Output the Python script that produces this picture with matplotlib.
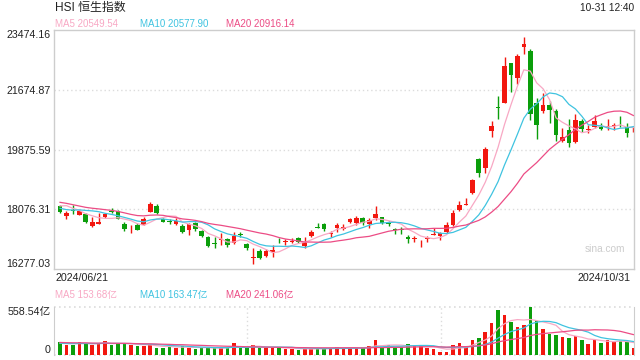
import matplotlib
matplotlib.use("Agg")
import matplotlib.pyplot as plt
import numpy as np
import pandas as pd

plt.rcParams["font.family"] = ["Liberation Sans", "Noto Sans CJK SC", "DejaVu Sans"]

title = "HSI 恒生指数"
stamp = "10-31 12:40"
start_label = "2024/06/21"
end_label = "2024/10/31"

# daily candles, 2024-06-21 .. 2024-10-31 (last one is intraday)
opens = [
    18174, 17882, 18053, 17912, 17933, 17581, 17641, 17834, 18032, 18014,
    17641, 17442, 17611, 17611, 18002, 18183, 17792, 17713, 17641, 17572,
    17451, 17671, 17421, 17240, 17060, 17150, 17171, 17051, 17340, 17021,
    16617, 16819, 16677, 16789, 17055, 17085, 17099, 17210, 16970, 17280,
    17533, 17632, 17322, 17502, 17490, 17692, 17653, 17804, 17623, 17804,
    17834, 17653, 17460, 17472, 17250, 17180, 17051, 17180, 17296, 17271,
    17382, 17602, 18053, 18204, 18556, 19580, 19309, 20441, 21146, 21284,
    22471, 22019, 22952, 22841, 21266, 21043, 21215, 21043, 20140, 20462,
    20110, 20742, 20470, 20562, 20562, 20555, 20585, 20713, 20562, 20425,
]
highs = [
    18204, 18032, 18204, 18053, 17954, 17834, 17954, 17972, 18105, 18053,
    17683, 17602, 17671, 17834, 18285, 18234, 17822, 17783, 17804, 17623,
    17653, 17701, 17451, 17271, 17250, 17352, 17201, 17382, 17400, 17069,
    16900, 16879, 16879, 16999, 17201, 17171, 17219, 17231, 17250, 17451,
    17653, 17653, 17430, 17653, 17623, 17822, 17873, 17852, 17804, 18183,
    17852, 17731, 17521, 17551, 17292, 17271, 17150, 17271, 17502, 17400,
    17701, 18053, 18333, 18406, 18987, 19610, 19941, 20742, 21486, 22669,
    22489, 22751, 23253, 22901, 21417, 21567, 21344, 21086, 20532, 20784,
    20935, 20784, 20613, 20914, 20664, 20784, 20664, 20884, 20664, 20562,
]
lows = [
    17954, 17773, 17933, 17903, 17653, 17551, 17641, 17804, 17954, 17773,
    17430, 17352, 17451, 17593, 17984, 17924, 17692, 17641, 17602, 17352,
    17292, 17430, 17231, 16939, 16900, 16999, 16948, 17021, 17250, 16849,
    16428, 16578, 16629, 16647, 17045, 16991, 17051, 17051, 16900, 17250,
    17525, 17430, 17250, 17382, 17451, 17653, 17602, 17611, 17502, 17752,
    17632, 17572, 17331, 17331, 17051, 17099, 16948, 17099, 17290, 17150,
    17352, 17572, 18032, 18200, 18526, 19056, 19177, 20261, 20784, 21266,
    21615, 21847, 22751, 20763, 20182, 20965, 20664, 20140, 20110, 19960,
    20062, 20411, 20363, 20513, 20462, 20462, 20462, 20562, 20261, 20411,
]
closes = [
    18002, 17972, 18032, 18014, 17683, 17701, 17683, 17933, 18002, 17792,
    17490, 17460, 17460, 17773, 18234, 17972, 17701, 17692, 17722, 17391,
    17623, 17472, 17271, 16979, 17030, 17171, 16991, 17271, 17310, 16909,
    16647, 16617, 16819, 16849, 17045, 17095, 17129, 17099, 17051, 17400,
    17525, 17481, 17370, 17602, 17551, 17773, 17822, 17671, 17752, 17933,
    17671, 17632, 17445, 17451, 17189, 17195, 17069, 17195, 17306, 17370,
    17602, 17972, 18204, 18215, 18957, 19159, 19890, 20583, 21125, 22389,
    22118, 22690, 23052, 20935, 20613, 21215, 21064, 20312, 20261, 20080,
    20763, 20492, 20490, 20733, 20483, 20570, 20600, 20695, 20381, 20441,
]
# turnover, 亿
volumes = [
    151, 121, 121, 151, 132, 121, 132, 162, 121, 132,
    132, 121, 106, 106, 121, 83, 83, 98, 83, 106,
    83, 72, 83, 83, 83, 79, 83, 140, 83, 83,
    117, 83, 83, 83, 83, 72, 72, 60, 72, 72,
    83, 72, 79, 94, 83, 83, 83, 83, 106, 174,
    94, 113, 94, 98, 128, 106, 106, 83, 72, 38,
    38, 117, 140, 94, 174, 196, 264, 366, 525, 457,
    377, 321, 343, 558, 389, 298, 242, 230, 208, 196,
    219, 174, 128, 177, 140, 174, 151, 162, 151, 83,
]

# sessions before the window, only used to seed the moving averages
prior_closes = [
    18600, 18830, 18820, 18480, 18230, 18080, 18400, 18440, 18420, 18350,
    18370, 18180, 17940, 17850, 17840, 17920, 18430, 18330, 18188,
]
prior_volumes = [
    165, 150, 160, 145, 170, 140, 155, 150, 160, 145,
    150, 135, 140, 130, 125, 135, 130, 145, 120,
]

price_ticks = [16277.03, 18076.31, 19875.59, 21674.87, 23474.16]
vol_top = 558.54

ma_windows = [5, 10, 20]
ma_colors = ["#f8a8c4", "#3fc3e0", "#ec4c85"]
price_ma_text = ["20549.54", "20577.90", "20916.14"]
vol_ma_text = ["153.68亿", "163.47亿", "241.06亿"]

UP = "#f2170f"
DOWN = "#0b9e0b"
GRID = "#dcdcdc"
FRAME = "#cdcdcd"
W, H = 640, 360


def moving_averages(prior, values):
    s = pd.Series(list(prior) + list(values), dtype=float)
    n = len(prior)
    return {w: s.rolling(w).mean().to_numpy()[n:] for w in ma_windows}


def fx(px):
    return px / W


def fy(py):
    return 1 - py / H


def ma_legend(fig, y, values):
    for xpx, w, col, val in zip([55, 140.5, 225.5], ma_windows, ma_colors, values):
        fig.text(fx(xpx), fy(y), f"MA{w} {val}", color=col, fontsize=7,
                 ha="left", va="center")


def main():
    o = np.array(opens, dtype=float)
    c = np.array(closes, dtype=float)
    x = np.arange(len(o))
    up = c >= o
    colors = np.where(up, UP, DOWN)

    fig = plt.figure(figsize=(6.4, 3.6), dpi=100)
    ax = fig.add_axes([fx(54), fy(269), fx(580), 239 / H])
    axv = fig.add_axes([fx(54), fy(355), fx(580), 48.3 / H])

    xlim = (-0.93, len(o) - 0.9)

    # price panel
    ax.vlines(x, lows, highs, colors=colors, linewidth=1.0, zorder=2)
    body = np.maximum(np.abs(c - o), 22)
    ax.bar(x, body, bottom=np.minimum(o, c), width=0.72, color=colors,
           linewidth=0, zorder=3)
    for w, col in zip(ma_windows, ma_colors):
        ax.plot(x, moving_averages(prior_closes, closes)[w], color=col,
                linewidth=0.9, zorder=4)

    ax.set_xlim(*xlim)
    ax.set_ylim(price_ticks[0], price_ticks[-1])
    ax.set_xticks([])
    ax.set_yticks(price_ticks)
    ax.set_yticklabels([f"{t:.2f}" for t in price_ticks])
    ax.tick_params(axis="y", length=0, pad=2.5, labelsize=7.7, labelcolor="#222222")
    labels = ax.get_yticklabels()
    labels[0].set_va("bottom")
    labels[-1].set_va("top")
    for t in price_ticks[1:-1]:
        ax.axhline(t, color=GRID, linewidth=1, linestyle=(0, (1, 2)), zorder=1)
    for side in ["left", "right", "top", "bottom"]:
        ax.spines[side].set_color(FRAME)
        ax.spines[side].set_linewidth(1)

    ax.text(0.985, 0.084, "sina.com", transform=ax.transAxes, ha="right",
            va="center", fontsize=7.3, color="#cccccc")

    # volume panel
    axv.bar(x, volumes, width=0.55, color=colors, linewidth=0, zorder=2)
    for w, col in zip(ma_windows, ma_colors):
        axv.plot(x, moving_averages(prior_volumes, volumes)[w], color=col,
                 linewidth=0.9, zorder=3)
    axv.set_xlim(*xlim)
    axv.set_ylim(0, vol_top)
    axv.set_xticks([])
    axv.set_yticks([0, vol_top])
    axv.set_yticklabels(["0", f"{vol_top:.2f}亿"])
    axv.tick_params(axis="y", length=0, pad=2.5, labelsize=7.7, labelcolor="#222222")
    vlabels = axv.get_yticklabels()
    vlabels[0].set_va("bottom")
    vlabels[-1].set_va("top")
    for t in [0, vol_top]:
        axv.axhline(t, color=GRID, linewidth=1.2, linestyle=(0, (1, 2)), zorder=1,
                    clip_on=False)
    for frac in [1 / 3, 2 / 3]:
        axv.plot([frac, frac], [0, 1], transform=axv.transAxes, color=GRID,
                 linewidth=1, linestyle=(0, (1, 2)), zorder=1)
    axv.spines["top"].set_visible(False)
    axv.spines["bottom"].set_visible(False)
    axv.spines["left"].set_color(FRAME)
    axv.spines["right"].set_color(FRAME)

    # header and labels
    fig.text(fx(55), fy(8), title, fontsize=8.6, color="#222222", ha="left", va="center")
    fig.text(fx(634), fy(8), stamp, fontsize=7.3, color="#222222", ha="right", va="center")
    ma_legend(fig, 24, price_ma_text)
    ma_legend(fig, 295, vol_ma_text)
    fig.text(fx(55), fy(278), start_label, fontsize=7.7, color="#222222",
             ha="left", va="center")
    fig.text(fx(631), fy(278), end_label, fontsize=7.7, color="#222222",
             ha="right", va="center")

    fig.savefig("out.png", dpi=100)
    plt.close(fig)


if __name__ == "__main__":
    main()
